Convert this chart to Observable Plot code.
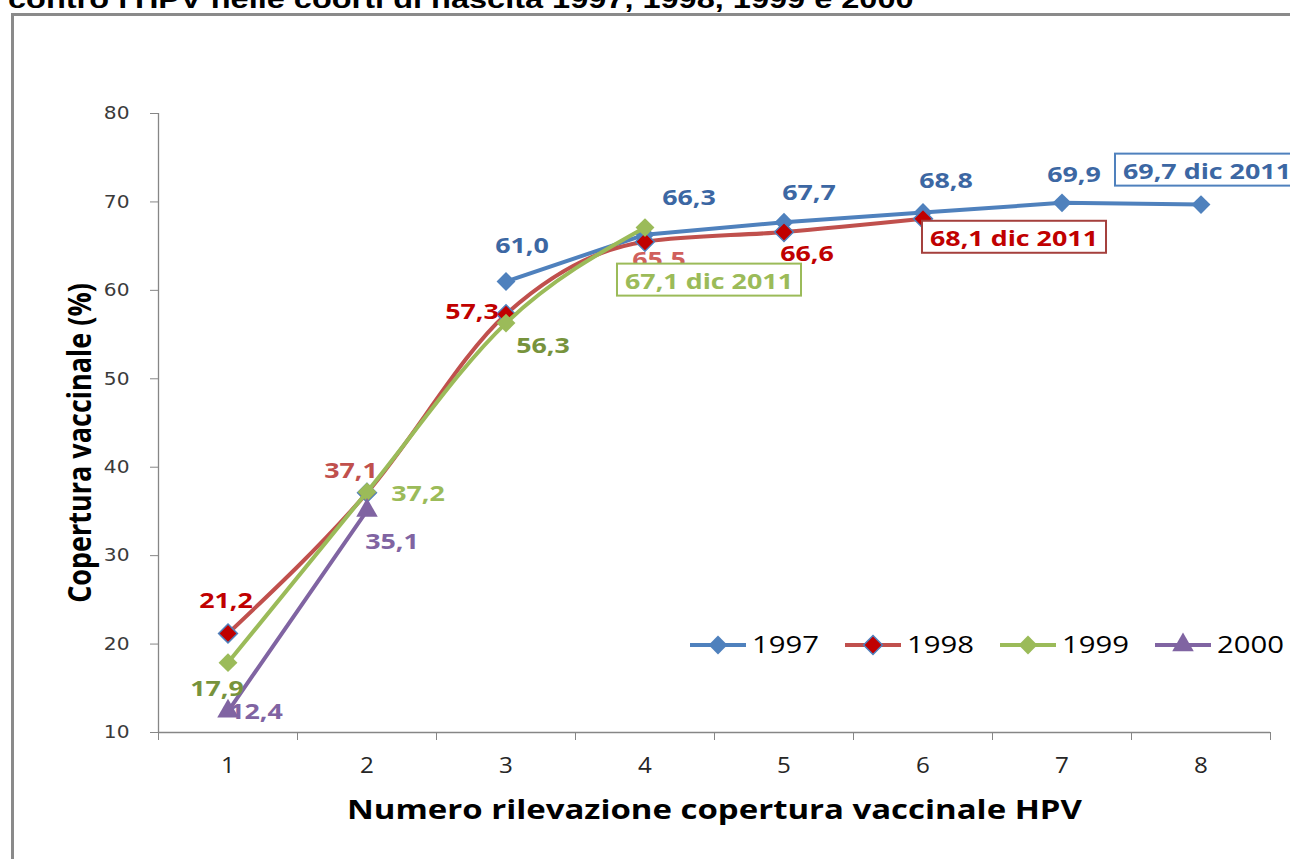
<!DOCTYPE html>
<html><head><meta charset="utf-8">
<script src="https://cdn.jsdelivr.net/npm/d3@7"></script>
<script src="https://cdn.jsdelivr.net/npm/@observablehq/plot@0.6"></script>
<style>
html,body{margin:0;padding:0;background:#fff;}
#wrap{position:relative;width:1290px;height:859px;overflow:hidden;background:#fff;}
#title{position:absolute;left:8px;top:-14px;font:bold 26px "Liberation Sans",Arial,sans-serif;white-space:nowrap;color:#000;line-height:26px;transform:scaleX(1.25);transform-origin:0 0;}
#frame{position:absolute;left:11px;top:13px;width:1300px;height:900px;border:3px solid #8a8a8a;box-sizing:border-box;}
#chart{position:absolute;left:0;top:0;}
</style></head><body>
<div id="wrap">
  <div id="title">contro l'HPV nelle coorti di nascita 1997, 1998, 1999 e 2000</div>
  <div id="frame"></div>
  <div id="chart"></div>
</div>
<script>
// ---- data ----
const rilevazioni = [1, 2, 3, 4, 5, 6, 7, 8];
const coorti = ["1997", "1998", "1999", "2000"];
const cop1997 = [null, null, 61.0, 66.3, 67.7, 68.8, 69.9, 69.7];
const cop1998 = [21.2, 37.1, 57.3, 65.5, 66.6, 68.1, null, null];
const cop1999 = [17.9, 37.2, 56.3, 67.1, null, null, null, null];
const cop2000 = [12.4, 35.1, null, null, null, null, null, null];
const yTicks = [10, 20, 30, 40, 50, 60, 70, 80];
const ultimaData = "dic 2011";
const titoloX = "Numero rilevazione copertura vaccinale HPV";
const titoloY = "Copertura vaccinale (%)";

// ---- styles / layout ----
const serie = {"1997": cop1997, "1998": cop1998, "1999": cop1999, "2000": cop2000};
const stile = {
  "1997": {color: "#4F81BD", symbol: "diamond2", fill: "#4F81BD", stroke: "none", box: "#4F81BD", curve: "linear"},
  "1998": {color: "#C0504D", symbol: "diamond2", fill: "#C00000", stroke: "#4F81BD", box: "#A5403D", curve: "monotone-x"},
  "1999": {color: "#9BBB59", symbol: "diamond2", fill: "#9BBB59", stroke: "none", box: "#9BBB59", curve: "monotone-x"},
  "2000": {color: "#8064A2", symbol: "triangle", fill: "#8064A2", stroke: "none", box: null, curve: "linear"}
};
const labelOffset = {
  "1997": [null, null, [16, -36], [44, -37], [25, -29], [23, -32], [12, -28], [6, -33]],
  "1998": [[-2, -33], [-16, -22], [-34, -2], [14, 18], [23, 22], [91, 20]],
  "1999": [[-11, 26], [51, 2], [37, 23], [64, 54]],
  "2000": [[28, 1], [25, 31]]
};
const labelColor = {
  "1997": ["#3C67A3", "#3C67A3", "#3C67A3", "#3C67A3", "#3C67A3", "#3C67A3", "#3C67A3", "#3C67A3"],
  "1998": ["#C00000", "#C0504D", "#C00000", "#D0605D", "#C00000", "#C00000"],
  "1999": ["#77933C", "#9BBB59", "#77933C", "#9BBB59"],
  "2000": ["#8064A2", "#8064A2"]
};

const fmt = v => v.toFixed(1).replace(".", ",");
const rows = [];
for (const c of coorti) {
  const vals = serie[c];
  const lastIdx = vals.reduce((m, v, i) => (v != null ? i : m), -1);
  vals.forEach((v, i) => {
    if (v == null) return;
    rows.push({coorte: c, rilevazione: rilevazioni[i], copertura: v, idx: i, last: i === lastIdx});
  });
}
const bordi = [rilevazioni[0] - 0.5, ...rilevazioni.map(d => d + 0.5)];

const marks = [
  Plot.ruleX([bordi[0]], {y1: yTicks[0], y2: yTicks[yTicks.length - 1], stroke: "#868686", strokeWidth: 1.3}),
  Plot.ruleY([yTicks[0]], {stroke: "#868686", strokeWidth: 1.3}),
  Plot.axisY(yTicks, {tickSize: 8, tickPadding: 21, fontSize: 18, fontFamily: "DejaVu Sans", fill: "#3a3a3a", stroke: "#868686", label: null}),
  Plot.axisX(rilevazioni, {tickSize: 0, tickPadding: 25, fontSize: 22, tickFormat: d => String(d), fill: "#262626", label: null}),
  Plot.axisX(bordi, {tickSize: 8, tickFormat: () => "", stroke: "#868686", label: null}),
  Plot.text([titoloX], {frameAnchor: "bottom", dy: 86, fontSize: 27, fontWeight: "bold", fill: "#000", className: "xtitle"}),
  Plot.text([titoloY], {frameAnchor: "left", textAnchor: "middle", dx: -78, dy: 20, rotate: -90, fontSize: 27, fontWeight: "bold", fill: "#000", className: "ytitle"})
];
for (const c of coorti) {
  const d = rows.filter(r => r.coorte === c);
  const s = stile[c];
  marks.push(Plot.line(d, {x: "rilevazione", y: "copertura", stroke: s.color, strokeWidth: 4, curve: s.curve}));
  marks.push(Plot.dot(d, {x: "rilevazione", y: "copertura", symbol: s.symbol, r: s.symbol === "triangle" ? 8 : 8.5,
    fill: s.fill, stroke: s.stroke, strokeWidth: 1.5}));
}
for (const r of rows) {
  const [dx, dy] = labelOffset[r.coorte][r.idx];
  const boxed = r.last && stile[r.coorte].box;
  marks.push(Plot.text([r], {x: "rilevazione", y: "copertura", dx, dy,
    text: d => boxed ? `${fmt(d.copertura)} ${ultimaData}` : fmt(d.copertura),
    fill: labelColor[r.coorte][r.idx], fontSize: 22, fontWeight: "bold",
    className: boxed ? `box-${r.coorte}` : "lbl"}));
}

const plot = Plot.plot({
  width: 1290, height: 859,
  marginLeft: 158, marginRight: 20, marginTop: 113, marginBottom: 127,
  style: {fontFamily: "'Open Sans', sans-serif", background: "transparent", overflow: "visible"},
  x: {type: "linear", domain: [bordi[0], bordi[bordi.length - 1]]},
  y: {domain: [yTicks[0], yTicks[yTicks.length - 1]]},
  marks
});
document.getElementById("chart").append(plot);

const svg = d3.select(plot);
const yLab = svg.selectAll('g[aria-label="y-axis tick label"]').attr("font-size", 18).attr("font-family", "DejaVu Sans");
const xLab = svg.selectAll('g[aria-label="x-axis tick label"]').attr("font-size", 22);
const K = 1.22;
function stretch(sel, k) {
  sel.each(function () {
    const L = this.getComputedTextLength();
    if (L > 0) { this.setAttribute("textLength", L * k); this.setAttribute("lengthAdjust", "spacingAndGlyphs"); }
  });
}
stretch(svg.selectAll("g.lbl text, g.box-1997 text, g.box-1998 text, g.box-1999 text, g.xtitle text"), K);
stretch(xLab.selectAll("text"), 1.1);
stretch(yLab.selectAll("text"), 1.12);
svg.selectAll("g.ytitle text").each(function () {
  const t = this.getAttribute("transform") || "";
  this.setAttribute("transform", t + ` scale(1,${K})`);
});

// boxes around final labels
for (const c of coorti) {
  if (!stile[c].box) continue;
  svg.selectAll(`g.box-${c} text`).each(function () {
    const b = this.getBBox();
    const padX = 8, padY = 1;
    d3.select(this.parentNode).insert("rect", () => this)
      .attr("transform", this.getAttribute("transform"))
      .attr("x", b.x - padX).attr("y", b.y - padY)
      .attr("width", b.width + 2 * padX).attr("height", b.height + 2 * padY)
      .attr("fill", "#fff").attr("stroke", stile[c].box).attr("stroke-width", 2);
  });
}

// legend
const leg = svg.append("g").attr("transform", "translate(690,645)");
const passo = 155, lineaLeg = 56;
coorti.forEach((c, i) => {
  const s = stile[c];
  const g = leg.append("g").attr("transform", `translate(${i * passo},0)`);
  g.append("line").attr("x1", 0).attr("x2", lineaLeg).attr("y1", 0).attr("y2", 0)
    .attr("stroke", s.color).attr("stroke-width", 4);
  const sym = s.symbol === "triangle" ? d3.symbolTriangle : d3.symbolDiamond2;
  g.append("path").attr("transform", `translate(${lineaLeg / 2},0)`)
    .attr("d", d3.symbol(sym, Math.PI * (s.symbol === "triangle" ? 64 : 72))())
    .attr("fill", s.fill).attr("stroke", s.stroke).attr("stroke-width", 1.5);
  const t = g.append("text").attr("x", lineaLeg + 6).attr("y", 0).attr("dy", "0.35em")
    .attr("text-anchor", "start").attr("font-size", 24).attr("fill", "#000").text(c);
  stretch(t, K);
});
</script>
</body></html>
